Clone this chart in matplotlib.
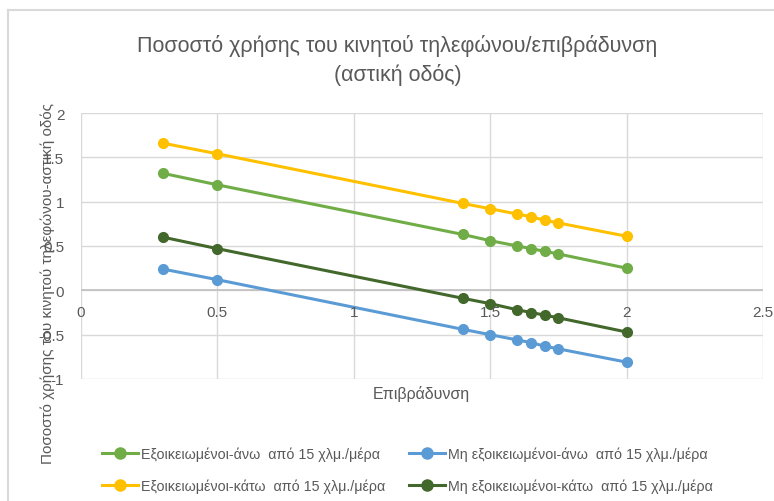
import matplotlib
matplotlib.use("Agg")
import matplotlib.pyplot as plt
from matplotlib.lines import Line2D

plt.rcParams['font.family'] = ['Liberation Sans', 'DejaVu Sans']

# δεδομένα (διαβασμένα από το γράφημα)
x_vals = [0.3, 0.5, 1.4, 1.5, 1.6, 1.65, 1.7, 1.75, 2.0]
exo_ano = [1.32, 1.19, 0.63, 0.56, 0.50, 0.47, 0.44, 0.41, 0.25]
exo_kato = [1.66, 1.54, 0.98, 0.92, 0.86, 0.83, 0.79, 0.76, 0.61]
mi_exo_ano = [0.24, 0.12, -0.44, -0.50, -0.56, -0.59, -0.63, -0.66, -0.81]
mi_exo_kato = [0.60, 0.47, -0.09, -0.15, -0.22, -0.25, -0.28, -0.31, -0.47]

labels = ["Εξοικειωμένοι-άνω  από 15 χλμ./μέρα",
          "Εξοικειωμένοι-κάτω  από 15 χλμ./μέρα",
          "Μη εξοικειωμένοι-άνω  από 15 χλμ./μέρα",
          "Μη εξοικειωμένοι-κάτω  από 15 χλμ./μέρα"]
series = [exo_ano, exo_kato, mi_exo_ano, mi_exo_kato]
colors = ["#70AD47", "#FFC000", "#5B9BD5", "#43682B"]

x_ticks = [0, 0.5, 1, 1.5, 2, 2.5]
x_tick_labels = ["0", "0.5", "1", "1.5", "2", "2.5"]
y_ticks = [-1, -0.5, 0, 0.5, 1, 1.5, 2]
y_tick_labels = ["-1", "-0.5", "0", "0.5", "1", "1.5", "2"]

W, H = 774, 502
fig = plt.figure(figsize=(W / 100, H / 100), dpi=100)
ax = fig.add_axes([81 / W, 1 - 380 / H, (763 - 81) / W, (380 - 114) / H])

grid_c = "#D9D9D9"
text_c = "#595959"

for s, c in zip(series, colors):
    ax.plot(x_vals, s, color=c, lw=2.2, marker="o", markersize=7, zorder=3)

ax.set_xlim(0, 2.5)
ax.set_ylim(-1, 2)
ax.set_xticks(x_ticks)
ax.set_xticklabels([])
ax.set_yticks(y_ticks)
ax.set_yticklabels(y_tick_labels, color=text_c, fontsize=11)
ax.tick_params(axis="both", length=0)
ax.tick_params(axis="y", pad=12)
ax.grid(True, color=grid_c, lw=1)
for sp in ax.spines.values():
    sp.set_visible(False)
ax.axhline(0, color="#BFBFBF", lw=1.2, zorder=2)

# x tick labels sit under the zero line (Excel style)
for xt, lab in zip(x_ticks, x_tick_labels):
    ax.text(xt, -0.17, lab, ha="center", va="top", color=text_c, fontsize=11)

fig.text(397 / W, 1 - 46 / H, "Ποσοστό χρήσης του κινητού τηλεφώνου/επιβράδυνση",
         ha="center", va="center", color=text_c, fontsize=15.5)
fig.text(398 / W, 1 - 75 / H, "(αστική οδός)",
         ha="center", va="center", color=text_c, fontsize=15.5)
fig.text(421 / W, 1 - 394 / H, "Επιβράδυνση", ha="center", va="center",
         color=text_c, fontsize=11.5)
fig.text(48 / W, 1 - 283 / H, "Ποσοστό χρήσης του κινητού τηλεφώνου-αστική οδός",
         ha="center", va="center", rotation=90, color=text_c, fontsize=11)

handles = [Line2D([0], [0], color=c, lw=2.2, marker="o", markersize=8) for c in colors]
leg = fig.legend(handles, labels, ncol=2, loc="upper left", bbox_to_anchor=(102 / W, 1 - 448 / H),
                 frameon=False, fontsize=10.3, handlelength=2.5, handletextpad=0.2,
                 columnspacing=1.7, labelspacing=1.2, borderpad=0, borderaxespad=0)
for t in leg.get_texts():
    t.set_color(text_c)

# light border of the chart area
fig.add_artist(Line2D([8 / W, 8 / W], [0, 1 - 11 / H], color=grid_c, lw=1.5))
fig.add_artist(Line2D([8 / W, 1], [1 - 11 / H, 1 - 11 / H], color=grid_c, lw=1.5))

fig.savefig("out.png", dpi=100)
